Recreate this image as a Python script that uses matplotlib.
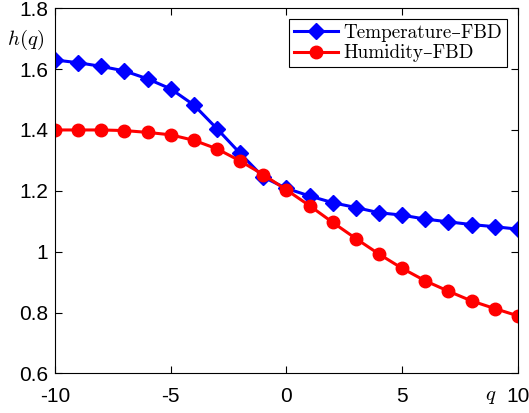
import numpy as np
import matplotlib
matplotlib.use("Agg")
import matplotlib.pyplot as plt
from matplotlib.font_manager import FontProperties

plt.rcParams['mathtext.fontset'] = 'cm'

q = list(range(-10, 11))
temp_fbd = [1.630, 1.621, 1.609, 1.594, 1.568, 1.535, 1.482, 1.404, 1.323, 1.245, 1.208,
            1.183, 1.161, 1.145, 1.128, 1.120, 1.107, 1.098, 1.089, 1.082, 1.074]
humid_fbd = [1.400, 1.400, 1.400, 1.398, 1.392, 1.384, 1.366, 1.338, 1.298, 1.253, 1.203,
             1.151, 1.096, 1.043, 0.992, 0.945, 0.904, 0.870, 0.838, 0.813, 0.789]
xticks = [-10, -5, 0, 5, 10]
yticks = [0.6, 0.8, 1.0, 1.2, 1.4, 1.6, 1.8]
ytick_labels = ['0.6', '0.8', '1', '1.2', '1.4', '1.6', '1.8']

fig = plt.figure(figsize=(5.29, 4.13), dpi=100)
ax = fig.add_axes([0.104, 0.096, 0.875, 0.884])

ax.plot(q, temp_fbd, color='#0000ff', lw=2.2, marker='D', ms=8.5,
        label='Temperature\u2013FBD')
ax.plot(q, humid_fbd, color='#ff0000', lw=2.2, marker='o', ms=9,
        label='Humidity\u2013FBD')

ax.set_xlim(-10, 10)
ax.set_ylim(0.6, 1.8)
ax.set_xticks(xticks)
ax.set_xticklabels([str(t) for t in xticks])
ax.set_yticks(yticks)
ax.set_yticklabels(ytick_labels)
ax.tick_params(direction='in', length=5, width=0.8, top=True, right=True,
               labelsize=15)
ax.tick_params(axis='x', pad=10)
ax.tick_params(axis='y', pad=5)
for lab in ax.get_xticklabels() + ax.get_yticklabels():
    lab.set_family('Liberation Sans')
for sp in ax.spines.values():
    sp.set_linewidth(0.8)

leg_font = FontProperties(family=['cmr10', 'DejaVu Serif'], size=13.8)
leg = ax.legend(loc='upper right', prop=leg_font, fancybox=False,
                edgecolor='black', framealpha=1, handlelength=2.3,
                handletextpad=0.3, borderpad=0.25, labelspacing=0.15,
                borderaxespad=0.55)
leg.get_frame().set_linewidth(0.8)

fig.text(26 / 529, 1 - 40 / 413, '$h(q)$', fontsize=15, ha='center', va='center')
fig.text(491 / 529, 1 - 396 / 413, '$q$', fontsize=15, ha='center', va='center')

fig.savefig('out.png', dpi=100)
